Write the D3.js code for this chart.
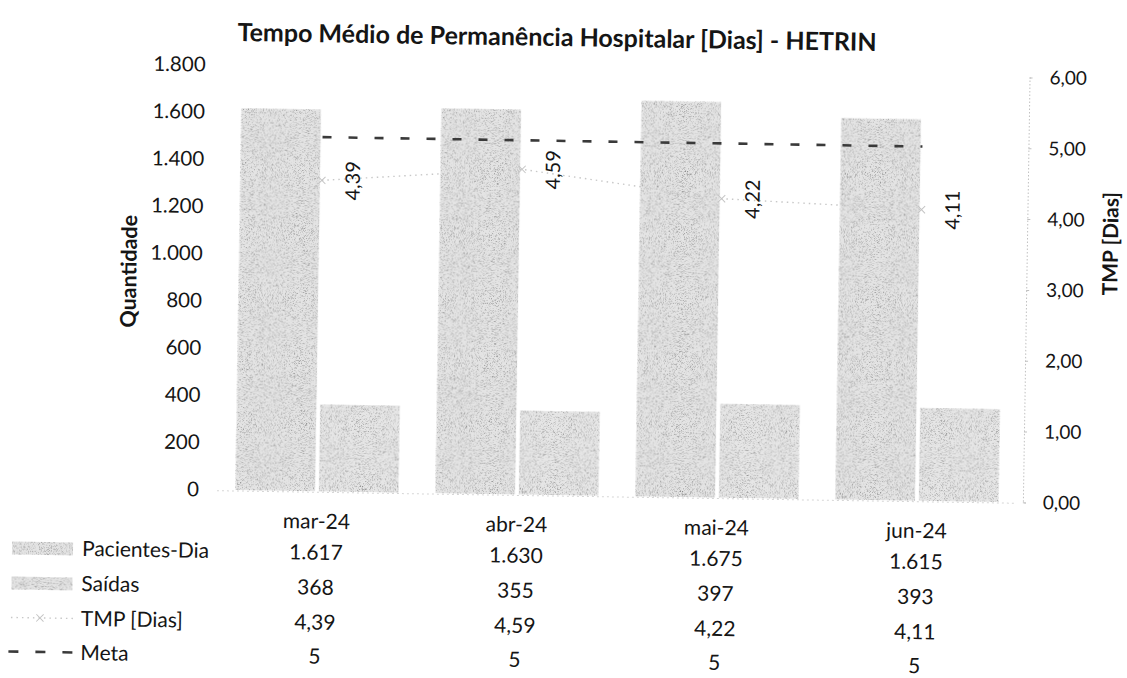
<!DOCTYPE html>
<html>
<head>
<meta charset="utf-8">
<script src="https://cdn.jsdelivr.net/npm/d3@7"></script>
<style>
  body { margin: 0; background: #fff; }
  svg { display: block; }
  text { font-family: Lato, "Open Sans", sans-serif; fill: #151515; }
</style>
</head>
<body>
<svg id="chart" width="1127" height="678"></svg>
<script>
// data
const months = ['mar-24', 'abr-24', 'mai-24', 'jun-24'];
const pacientesDia = [1617, 1630, 1675, 1615];
const saidas = [368, 355, 397, 393];
const tmp = [4.39, 4.59, 4.22, 4.11];
const meta = [5, 5, 5, 5];
const leftTicks = [0, 200, 400, 600, 800, 1000, 1200, 1400, 1600, 1800];
const rightTicks = [0, 1, 2, 3, 4, 5, 6];

const ptBR = d3.formatLocale({ decimal: ',', thousands: '.', grouping: [3], currency: ['R$', ''] });
const fmtInt = ptBR.format(',d');
const fmt2 = ptBR.format(',.2f');

const svg = d3.select('#chart');

// scan speckle for the bars
const defs = svg.append('defs');
const f = defs.append('filter').attr('id', 'stipple')
  .attr('x', 0).attr('y', 0).attr('width', '100%').attr('height', '100%');
f.append('feTurbulence').attr('type', 'fractalNoise').attr('baseFrequency', 1.6)
  .attr('numOctaves', 1).attr('seed', 7).attr('result', 'noise');
f.append('feColorMatrix').attr('in', 'noise').attr('type', 'matrix')
  .attr('values', '0 0 0 0 0.25  0 0 0 0 0.25  0 0 0 0 0.25  -3 0 0 0 1.55').attr('result', 'dots');
f.append('feComposite').attr('in', 'dots').attr('in2', 'SourceGraphic').attr('operator', 'in').attr('result', 'dotsIn');
const fm = f.append('feMerge');
fm.append('feMergeNode').attr('in', 'SourceGraphic');
fm.append('feMergeNode').attr('in', 'dotsIn');

// the whole page is scanned slightly tilted
const g = svg.append('g').attr('transform', 'rotate(0.9, 620, 300)');

const x = d3.scaleBand().domain(months).range([220, 1020]).paddingInner(0.185).paddingOuter(0.0925);
const xs = d3.scaleBand().domain(['pac', 'sai']).range([0, x.bandwidth()]).paddingInner(0.045);
const y = d3.scaleLinear().domain([0, 1800]).range([496, 71]);
const y2 = d3.scaleLinear().domain([0, 6]).range([496, 71]);
const cx = m => x(m) + x.bandwidth() / 2;

// title
g.append('text').attr('x', 553).attr('y', 47).attr('text-anchor', 'middle')
  .style('font-weight', 700).style('font-size', '25px')
  .text('Tempo Médio de Permanência Hospitalar [Dias] - HETRIN');

// left axis
const ax = g.append('g').attr('transform', 'translate(202,0)')
  .call(d3.axisLeft(y).tickValues(leftTicks).tickSize(0).tickPadding(0).tickFormat(fmtInt));
ax.select('.domain').remove();
ax.selectAll('text').style('font-family', 'Lato').style('font-size', '20.5px').attr('fill', '#151515');

g.append('text').attr('transform', 'translate(136,279) rotate(-90)').attr('text-anchor', 'middle')
  .style('font-weight', 700).style('font-size', '21.5px').text('Quantidade');

// right axis
const ax2 = g.append('g').attr('transform', 'translate(1026,0)')
  .call(d3.axisRight(y2).tickValues(rightTicks).tickSize(3).tickPadding(17).tickFormat(fmt2));
ax2.select('.domain').attr('stroke', '#c0c0c0').attr('stroke-dasharray', '1.5,2');
ax2.selectAll('.tick line').attr('stroke', '#c0c0c0');
ax2.selectAll('text').style('font-family', 'Lato').style('font-size', '19px').attr('fill', '#151515');

g.append('text').attr('transform', 'translate(1117,236) rotate(-90)').attr('text-anchor', 'middle')
  .style('font-weight', 700).style('font-size', '21px').text('TMP [Dias]');

// faint category axis line
g.append('line').attr('x1', 220).attr('x2', 1020).attr('y1', y(0) + 1).attr('y2', y(0) + 1)
  .attr('stroke', '#d6d6d6').attr('stroke-dasharray', '2,3');

// bars
const bars = g.append('g').attr('filter', 'url(#stipple)');
bars.selectAll('rect.pac').data(months).join('rect').attr('class', 'pac')
  .attr('x', m => x(m) + xs('pac')).attr('width', xs.bandwidth())
  .attr('y', (m, i) => y(pacientesDia[i])).attr('height', (m, i) => y(0) - y(pacientesDia[i]))
  .attr('fill', '#e4e4e4');
bars.selectAll('rect.sai').data(months).join('rect').attr('class', 'sai')
  .attr('x', m => x(m) + xs('sai')).attr('width', xs.bandwidth())
  .attr('y', (m, i) => y(saidas[i])).attr('height', (m, i) => y(0) - y(saidas[i]))
  .attr('fill', '#e6e6e6');

// TMP line
const line = d3.line().x((d, i) => cx(months[i])).y(d => y2(d));
g.append('path').attr('d', line(tmp)).attr('fill', 'none')
  .attr('stroke', '#c8c8c8').attr('stroke-width', 1.4).attr('stroke-dasharray', '1.5,4');
g.selectAll('path.mk').data(tmp).join('path').attr('class', 'mk')
  .attr('transform', (d, i) => `translate(${cx(months[i])},${y2(d)})`)
  .attr('d', d3.symbol(d3.symbolTimes, 36)).attr('fill', 'none')
  .attr('stroke', '#c4c4c4').attr('stroke-width', 1);

// meta line
g.append('path').attr('d', line(meta)).attr('fill', 'none')
  .attr('stroke', '#3a3a3a').attr('stroke-width', 2.6).attr('stroke-dasharray', '9,17');

// TMP data labels
g.selectAll('text.lbl').data(tmp).join('text').attr('class', 'lbl')
  .attr('transform', (d, i) => `translate(${cx(months[i]) + 38},${y2(d)}) rotate(-90)`)
  .attr('text-anchor', 'middle').style('font-size', '20px').text(d => fmt2(d));

// data table
const rowY = [557, 592, 627, 661];
g.selectAll('text.cat').data(months).join('text').attr('class', 'cat')
  .attr('x', m => cx(m)).attr('y', 526).attr('dy', '0.35em')
  .attr('text-anchor', 'middle').style('font-size', '21px').text(m => m);

const rows = [
  { name: 'Pacientes-Dia', vals: pacientesDia.map(fmtInt) },
  { name: 'Saídas', vals: saidas.map(fmtInt) },
  { name: 'TMP [Dias]', vals: tmp.map(fmt2) },
  { name: 'Meta', vals: meta.map(String) }
];
rows.forEach((r, ri) => {
  g.selectAll('text.v' + ri).data(r.vals).join('text').attr('class', 'v' + ri)
    .attr('x', (d, i) => cx(months[i])).attr('y', rowY[ri]).attr('dy', '0.35em')
    .attr('text-anchor', 'middle').style('font-size', '21px').text(d => d);
  g.append('text').attr('x', 86).attr('y', rowY[ri]).attr('dy', '0.35em')
    .style('font-size', '21px').text(r.name);
});

// legend keys
const keys = g.append('g');
keys.append('g').attr('filter', 'url(#stipple)').selectAll('rect').data([0, 1]).join('rect')
  .attr('x', 16).attr('width', 61).attr('y', i => rowY[i] - 6).attr('height', 13).attr('fill', '#e4e4e4');
keys.append('line').attr('x1', 16).attr('x2', 78).attr('y1', rowY[2]).attr('y2', rowY[2])
  .attr('stroke', '#c8c8c8').attr('stroke-width', 1.4).attr('stroke-dasharray', '1.5,4');
keys.append('path').attr('transform', `translate(45,${rowY[2]})`)
  .attr('d', d3.symbol(d3.symbolTimes, 36)).attr('fill', 'none').attr('stroke', '#c4c4c4');
keys.append('line').attr('x1', 14).attr('x2', 79).attr('y1', rowY[3]).attr('y2', rowY[3])
  .attr('stroke', '#3a3a3a').attr('stroke-width', 2.6).attr('stroke-dasharray', '10,17');
</script>
</body>
</html>
